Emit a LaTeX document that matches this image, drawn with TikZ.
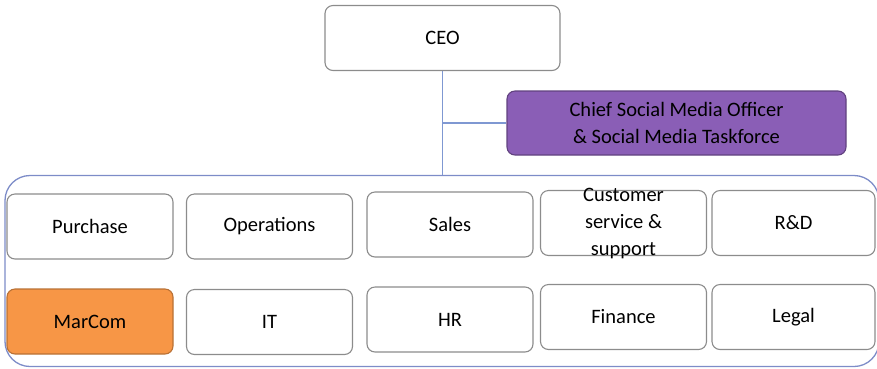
\documentclass[tikz,border=0pt]{standalone}
\usepackage{fontspec}
\setmainfont{Carlito}
\definecolor{boxline}{HTML}{8C8C8C}
\definecolor{frameline}{HTML}{7D8CC8}
\definecolor{linkline}{HTML}{7F98D2}
\definecolor{csmofill}{HTML}{8A5EB6}
\definecolor{marcomfill}{HTML}{F79646}
\tikzset{
	unit/.style={draw=boxline, line width=1.1pt, rounded corners=8pt, fill=white,
		minimum width=166pt, minimum height=65pt, inner sep=0pt,
		font=\fontsize{20.5}{27}\selectfont},
	link/.style={draw=linkline, line width=1.6pt}
}
\begin{document}
\begin{tikzpicture}[x=1pt, y=-1pt]
	\useasboundingbox (0,0) rectangle (877,368);
	% top of the chart
	\node[unit, minimum width=235pt] (ceo) at (442.5,38) {CEO};
	\node[unit, minimum width=339pt, minimum height=64pt, fill=csmofill, draw=csmofill!70!black,
		align=center] (csmo) at (676.5,123) {Chief Social Media Officer\\\& Social Media Taskforce};
	% frame round the departments
	\node[draw=frameline, line width=1.3pt, rounded corners=25pt, minimum width=874pt,
		minimum height=191pt, inner sep=0pt] (dept) at (442,271) {};
	\draw[link] (ceo.south) -- (ceo.south |- dept.north);
	\draw[link] (ceo.south |- csmo.west) -- (csmo.west);
	% departments
	\node[unit] (purchase) at (90,226.5) {Purchase};
	\node[unit] (operations) at (269.5,226.5) {Operations};
	\node[unit] (sales) at (450,224.5) {Sales};
	\node[unit] (customer) at (623.5,223) {};
	\node[align=center, font=\fontsize{20.5}{27}\selectfont] (customertext) at (customer) {Customer\\service \&\\support};
	\node[unit, minimum width=163pt] (rd) at (793.5,223) {R\&D};
	\node[unit, fill=marcomfill, draw=marcomfill!75!black] (marcom) at (90,321.5) {MarCom};
	\node[unit] (it) at (269.5,322) {IT};
	\node[unit] (hr) at (450,319.5) {HR};
	\node[unit] (finance) at (623.5,317) {Finance};
	\node[unit, minimum width=163pt] (legal) at (793.5,317) {Legal};
\end{tikzpicture}
\end{document}
